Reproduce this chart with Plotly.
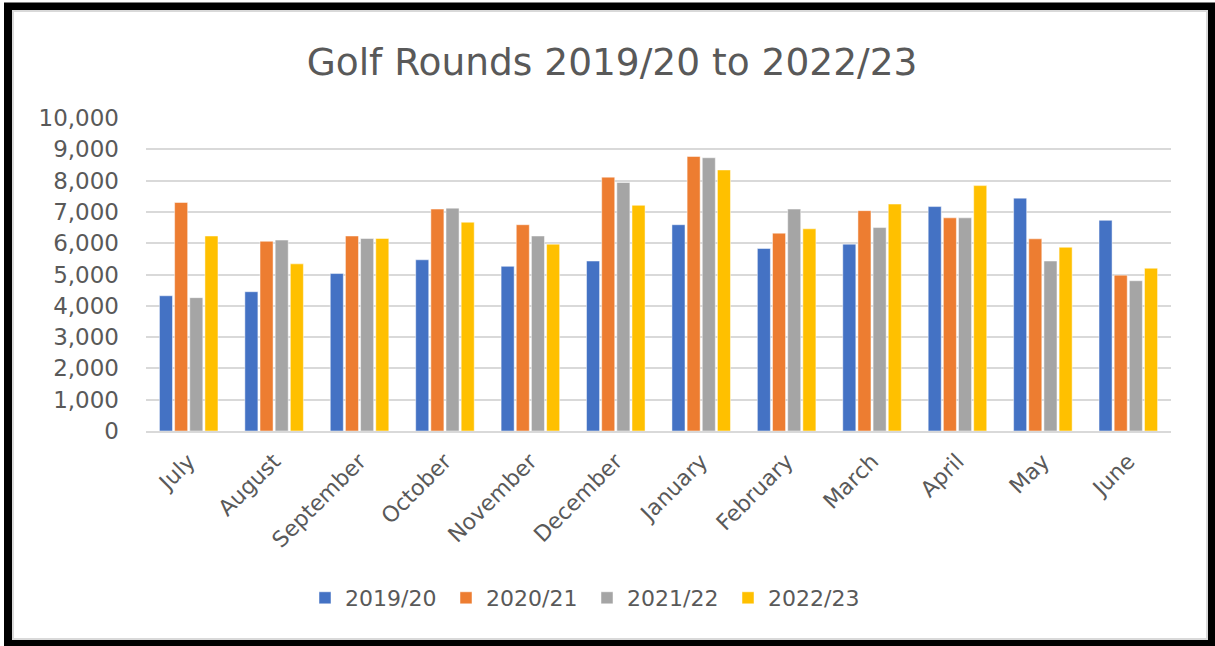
import plotly.graph_objects as go

months = ["July", "August", "September", "October", "November", "December",
          "January", "February", "March", "April", "May", "June"]
s2019_20 = [4320, 4450, 5030, 5470, 5260, 5430, 6590, 5830, 5970, 7170, 7440, 6730]
s2020_21 = [7300, 6060, 6230, 7090, 6590, 8110, 8770, 6320, 7040, 6810, 6140, 4980]
s2021_22 = [4260, 6100, 6150, 7120, 6230, 7940, 8730, 7090, 6500, 6810, 5430, 4800]
s2022_23 = [6230, 5340, 6150, 6670, 5970, 7210, 8340, 6460, 7250, 7840, 5870, 5200]
series_names = ["2019/20", "2020/21", "2021/22", "2022/23"]
colors = ["#4472C4", "#ED7D31", "#A5A5A5", "#FFC000"]

W, H = 1215, 646
L, R, T, B = 146, 44, 118, 215
PW, PH = W - L - R, H - T - B

def px(x):
    return (x - L) / PW

def py(y):
    return (H - B - y) / PH

FONT = "DejaVu Sans, sans-serif"
TXT = "#595959"

fig = go.Figure()
for name, vals, c in zip(series_names, [s2019_20, s2020_21, s2021_22, s2022_23], colors):
    fig.add_trace(go.Bar(name=name, x=months, y=vals, marker_color=c,
                         marker_line=dict(color="rgba(255,255,255,0.6)", width=0.8)))

fig.update_layout(
    width=W, height=H,
    margin=dict(l=L, r=R, t=T, b=B, pad=0),
    paper_bgcolor="white", plot_bgcolor="white",
    barmode="group", bargap=0.29, bargroupgap=0.14,
    font=dict(family=FONT, color=TXT),
    title=dict(text="Golf Rounds 2019/20 to 2022/23", x=px(612), xref="paper", xanchor="center",
               y=1 - 62 / H, yanchor="middle",
               font=dict(family=FONT, size=37.5, color=TXT)),
    legend=dict(orientation="h", x=px(587), xanchor="center", y=py(598), yanchor="middle",
                font=dict(family=FONT, size=22, color=TXT), traceorder="normal",
                itemwidth=30, entrywidth=96),
    showlegend=True,
)
fig.update_yaxes(range=[0, 10000], dtick=1000, tickformat=",", showgrid=True,
                 gridcolor="#d9d9d9", gridwidth=1.5, zeroline=False, showline=False,
                 ticks="", ticklabelstandoff=26,
                 tickfont=dict(family=FONT, size=23, color=TXT))
fig.update_xaxes(tickangle=-45, showline=True, linecolor="#d9d9d9", linewidth=1.5,
                 ticks="", ticklabelstandoff=7,
                 tickfont=dict(family=FONT, size=22, color=TXT))

# outer frame
fig.add_shape(type="rect", xref="paper", yref="paper",
              x0=px(8), x1=px(1211.5), y0=py(6.5), y1=py(643.5),
              line=dict(color="black", width=8), layer="above")
fig.add_shape(type="rect", xref="paper", yref="paper",
              x0=px(13), x1=px(1207), y0=py(11), y1=py(639),
              line=dict(color="#d9d9d9", width=2), layer="above")

fig.write_html("out.html")
